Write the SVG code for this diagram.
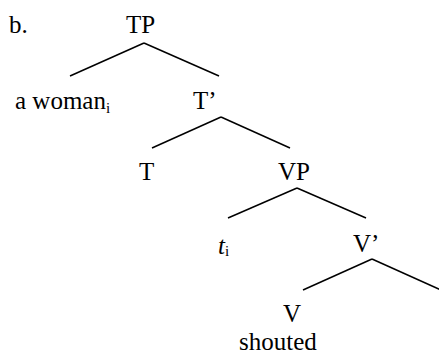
<svg xmlns="http://www.w3.org/2000/svg" width="439" height="354" viewBox="0 0 439 354">
<style>
text{font-family:"Liberation Serif","Times New Roman",serif;font-size:25px;fill:#000}
.sub{font-size:15px}
.it{font-style:italic}
line{stroke:#000;stroke-width:1.5}
</style>
<rect width="439" height="354" fill="#fff"/>
<g id="connectors">
<line x1="144" y1="43" x2="70" y2="76"/>
<line x1="144" y1="43" x2="219" y2="76"/>
<line x1="221" y1="117" x2="152" y2="148"/>
<line x1="221" y1="117" x2="290" y2="148"/>
<line x1="297" y1="188" x2="228" y2="218"/>
<line x1="297" y1="188" x2="366" y2="218"/>
<line x1="372" y1="259" x2="303" y2="290"/>
<line x1="372" y1="259" x2="441" y2="290"/>
</g>
<g id="label-b"><text x="9" y="33">b.</text></g>
<g id="TP"><text x="126" y="33">TP</text></g>
<g id="a-woman"><text x="15" y="109">a woman<tspan class="sub" dy="4">i</tspan></text></g>
<g id="Tbar"><text x="193" y="109">T’</text></g>
<g id="T"><text x="139" y="180">T</text></g>
<g id="VP"><text x="278" y="180">VP</text></g>
<g id="trace"><text x="218" y="254"><tspan class="it">t</tspan><tspan class="sub" dy="2">i</tspan></text></g>
<g id="Vbar"><text x="353" y="252">V’</text></g>
<g id="V"><text x="283" y="322">V</text><text x="239" y="350">shouted</text></g>
</svg>
